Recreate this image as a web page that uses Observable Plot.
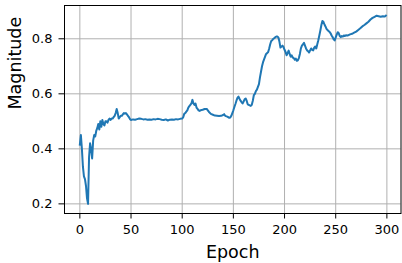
<!DOCTYPE html>
<html>
<head>
<meta charset="utf-8">
<script src="https://cdn.jsdelivr.net/npm/d3@7"></script>
<script src="https://cdn.jsdelivr.net/npm/@observablehq/plot@0.6"></script>
<style>
  html, body { margin: 0; padding: 0; background: #fff; }
  #chart { width: 402px; height: 263px; }
</style>
</head>
<body>
<div id="chart"></div>
<script>
const epochs = [0,1,2,3,4,5,6,7,8,9,10,11,12,13,14,15,16,17,18,19,20,21,22,23,24,25,26,27,28,29,30,31,32,33,34,35,36,37,38,39,40,41,42,43,44,45,46,47,48,49,50,52,54,56,58,60,62,64,66,68,70,72,74,76,78,80,82,84,86,88,90,92,94,96,98,100,101,102,103,104,105,106,107,108,109,110,111,112,113,114,115,116,117,118,120,122,124,125,126,128,130,132,134,136,138,140,141,142,144,146,147,148,149,150,151,152,153,154,155,156,157,158,159,160,161,162,163,164,165,166,167,168,169,170,171,172,173,174,175,176,177,178,179,180,181,182,183,184,185,186,187,188,189,190,191,192,193,194,195,196,197,198,199,200,201,202,203,204,205,206,207,208,209,210,211,212,213,214,215,216,217,218,219,220,221,222,223,224,225,226,227,228,229,230,231,232,233,234,235,236,237,238,239,240,241,242,243,244,245,246,247,248,249,250,251,252,253,254,255,256,257,258,259,260,262,264,266,268,270,272,274,276,278,280,282,284,286,288,290,292,294,296,298,299];
const magnitudes = [0.415,0.45,0.40,0.335,0.30,0.29,0.265,0.22,0.20,0.37,0.42,0.40,0.365,0.43,0.45,0.445,0.465,0.475,0.49,0.47,0.50,0.48,0.505,0.49,0.485,0.50,0.50,0.495,0.505,0.51,0.505,0.51,0.51,0.515,0.52,0.53,0.545,0.53,0.51,0.515,0.52,0.52,0.525,0.53,0.528,0.53,0.525,0.52,0.515,0.508,0.505,0.507,0.506,0.508,0.51,0.509,0.507,0.508,0.506,0.507,0.506,0.508,0.507,0.509,0.508,0.506,0.505,0.507,0.503,0.506,0.507,0.506,0.508,0.507,0.509,0.51,0.515,0.527,0.53,0.535,0.54,0.55,0.555,0.56,0.565,0.578,0.565,0.56,0.565,0.55,0.545,0.54,0.538,0.54,0.542,0.545,0.545,0.54,0.535,0.527,0.524,0.521,0.52,0.519,0.52,0.523,0.526,0.52,0.517,0.513,0.514,0.52,0.53,0.54,0.552,0.563,0.575,0.585,0.59,0.582,0.575,0.57,0.565,0.572,0.58,0.583,0.575,0.562,0.56,0.558,0.556,0.56,0.575,0.595,0.60,0.61,0.615,0.625,0.635,0.66,0.68,0.70,0.715,0.725,0.735,0.745,0.748,0.752,0.765,0.78,0.792,0.795,0.80,0.802,0.806,0.808,0.808,0.805,0.79,0.768,0.772,0.775,0.77,0.76,0.752,0.74,0.748,0.757,0.745,0.735,0.74,0.732,0.73,0.724,0.728,0.72,0.722,0.73,0.745,0.765,0.775,0.78,0.785,0.775,0.765,0.758,0.755,0.75,0.758,0.765,0.76,0.758,0.768,0.772,0.765,0.78,0.795,0.812,0.83,0.85,0.865,0.862,0.852,0.845,0.836,0.832,0.828,0.825,0.82,0.812,0.806,0.798,0.794,0.805,0.815,0.824,0.82,0.81,0.806,0.81,0.808,0.812,0.81,0.813,0.812,0.816,0.818,0.822,0.826,0.832,0.838,0.845,0.85,0.856,0.862,0.87,0.876,0.88,0.884,0.882,0.88,0.882,0.881,0.884];
const xTicks = [0,50,100,150,200,250,300];
const yTicks = [0.2,0.4,0.6,0.8];
const xLabel = "Epoch";
const yLabel = "Magnitude";

const data = epochs.map((e, i) => ({epoch: e, value: magnitudes[i]}));
const font = "DejaVu Sans, sans-serif";

const chart = Plot.plot({
  width: 402,
  height: 263,
  marginLeft: 64,
  marginRight: 1.5,
  marginTop: 5,
  marginBottom: 50,
  style: {fontFamily: font, background: "#fff", color: "#000"},
  x: {domain: [-15, 313.8]},
  y: {domain: [0.165, 0.921]},
  marks: [
    Plot.gridX(xTicks, {stroke: "#b0b0b0", strokeOpacity: 1, strokeWidth: 1}),
    Plot.gridY(yTicks, {stroke: "#b0b0b0", strokeOpacity: 1, strokeWidth: 1}),
    Plot.line(data, {x: "epoch", y: "value", stroke: "#1f77b4", strokeWidth: 2, strokeLinejoin: "round", strokeLinecap: "square"}),
    Plot.frame({stroke: "#000", strokeWidth: 1}),
    Plot.axisX(xTicks, {tickSize: 5.5, tickPadding: 5.5, fontSize: 13, label: null, stroke: "#000"}),
    Plot.axisY(yTicks, {tickSize: 5.5, tickPadding: 6.5, fontSize: 13, label: null, tickFormat: d => d.toFixed(1), stroke: "#000"}),
    Plot.text([xLabel], {frameAnchor: "bottom", dy: 44, fontSize: 17.5, fill: "#000", text: d => d}),
    Plot.text([yLabel], {frameAnchor: "left", dx: -49, rotate: -90, fontSize: 17.5, fill: "#000", text: d => d})
  ]
});
document.getElementById("chart").appendChild(chart);
</script>
</body>
</html>
